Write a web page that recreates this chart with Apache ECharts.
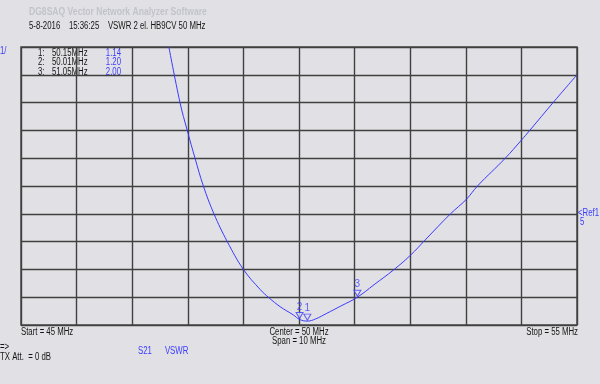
<!DOCTYPE html>
<html><head><meta charset="utf-8">
<script src="https://cdn.jsdelivr.net/npm/echarts@6/dist/echarts.min.js"></script>
<style>html,body{margin:0;padding:0;background:#e1e1e5;}#c{width:600px;height:384px;}</style>
</head><body><div id="c"></div>
<script>
// Frequency (MHz) and VSWR
const freqMHz = [47.66, 47.86, 47.99, 48.13, 48.28, 48.47, 48.71, 49.00, 49.30, 49.46, 49.66, 49.90, 50.01, 50.15, 50.30, 50.50, 50.75, 51.05, 51.35, 51.70, 52.00, 52.27, 52.72, 53.01, 53.21, 53.71, 54.00, 54.15, 54.57, 55.00];
const vswr    = [11.0, 9.0, 8.0, 7.0, 6.0, 5.0, 4.0, 3.0, 2.28, 1.98, 1.66, 1.36, 1.20, 1.14, 1.22, 1.42, 1.68, 2.00, 2.45, 2.98, 3.50, 4.06, 4.99, 5.52, 6.00, 7.00, 7.65, 8.00, 9.00, 10.00];
// Markers
const markerIds   = ['1', '2', '3'];
const markerFreqs = [50.15, 50.01, 51.05];
const markerVals  = [1.14, 1.20, 2.00];
// Axis settings
const xStart = 45, xStop = 55, xStep = 1;
const yMin = 1, yMax = 11, yStep = 1;
const refLevel = 5;

const chart = echarts.init(document.getElementById('c'), null, {renderer: 'canvas'});
const blue = '#3a3aff';
const dark = '#151515';
const font = 'Liberation Sans, Arial, sans-serif';
const SX = 0.78;

function txt(x, y, text, color, opts) {
  opts = opts || {};
  return {type:'text', x:x, y:y, scaleX: opts.sx || SX, scaleY:1, originX:0, originY:0,
    style:{text:text, fill:color, font:(opts.font || '10px ') + font,
      align: opts.align || 'left', verticalAlign:'middle', x:0, y:0}};
}

const graphics = [
  txt(29, 12, 'DG8SAQ Vector Network Analyzer Software', '#c2c2ca', {font:'bold 11px '}),
  txt(29, 26, '5-8-2016    15:36:25    VSWR 2 el. HB9CV 50 MHz', dark),
  txt(0, 51, yStep + '/', blue),
  txt(578, 213, '<Ref1', blue),
  txt(580, 222, String(refLevel), blue),
  txt(21, 332, 'Start = ' + xStart + ' MHz', dark),
  txt(299, 332, 'Center = ' + ((xStart + xStop) / 2) + ' MHz', dark, {align:'center'}),
  txt(299, 341, 'Span = ' + (xStop - xStart) + ' MHz', dark, {align:'center'}),
  txt(578, 332, 'Stop = ' + xStop + ' MHz', dark, {align:'right'}),
  txt(0, 347.5, '=>', dark),
  txt(0, 357, 'TX Att.  = 0 dB', dark),
  txt(138, 351, 'S21      VSWR', blue)
];
markerIds.forEach((id, i) => {
  const y = 53.3 + i * 9.4;
  graphics.push(txt(38, y, id + ':', dark));
  graphics.push(txt(52, y, markerFreqs[i].toFixed(2) + 'MHz', dark));
  graphics.push(txt(121, y, markerVals[i].toFixed(2), blue, {align:'right'}));
});

chart.setOption({
  backgroundColor: '#e1e1e5',
  animation: false,
  grid: {left:21, right:23, top:47, bottom:59, show:true, borderColor:'#4a4a4a', borderWidth:1.5, backgroundColor:'transparent'},
  xAxis: {type:'value', min:xStart, max:xStop, interval:xStep,
    axisLine:{show:false}, axisTick:{show:false}, axisLabel:{show:false},
    splitLine:{show:true, lineStyle:{color:'#404040', width:1.4}}},
  yAxis: {type:'value', min:yMin, max:yMax, interval:yStep,
    axisLine:{show:false}, axisTick:{show:false}, axisLabel:{show:false},
    splitLine:{show:true, lineStyle:{color:'#404040', width:1.4}}},
  graphic: graphics,
  series: [
    {type:'line', data: freqMHz.map((f, i) => [f, vswr[i]]), smooth:0.4, showSymbol:false, clip:true,
      lineStyle:{color:blue, width:1}},
    {type:'scatter', data: markerFreqs.map((f, i) => ({value:[f, markerVals[i]], name:markerIds[i]})),
      symbol:'triangle', symbolRotate:180, symbolSize:[7, 6], symbolOffset:[0, -4],
      itemStyle:{color:'#e1e1e5', borderColor:blue, borderWidth:1},
      label:{show:true, position:'top', distance:0, formatter:p => p.name, color:blue, fontSize:10, fontFamily:font},
      z:5}
  ]
});
</script></body></html>
